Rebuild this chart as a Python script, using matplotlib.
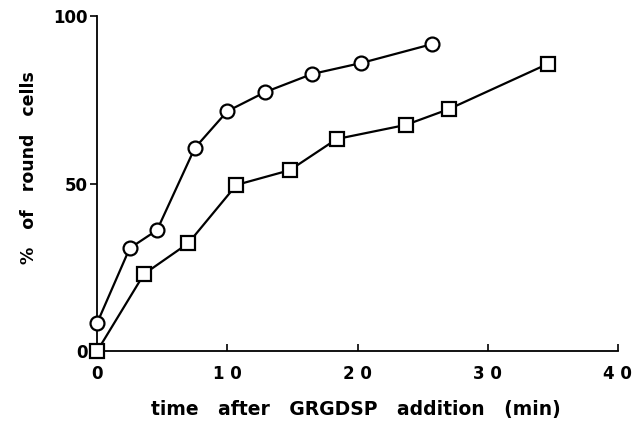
import matplotlib.pyplot as plt

# % of round cells after GRGDSP addition
circle_t = [0, 2.5, 4.6, 7.5, 10.0, 12.9, 16.5, 20.3, 25.7]
circle_pct = [8.4, 30.7, 36.1, 60.6, 71.6, 77.3, 82.7, 86.0, 91.6]

square_t = [0, 3.6, 7.0, 10.7, 14.8, 18.4, 23.7, 27.0, 34.6]
square_pct = [0, 23.0, 32.2, 49.6, 54.0, 63.3, 67.5, 72.2, 85.7]

xticks = [0, 10, 20, 30, 40]
xticklabels = ['0', '1 0', '2 0', '3 0', '4 0']
yticks = [0, 50, 100]
yticklabels = ['0', '50', '100']

plt.rcParams['font.family'] = ['DejaVu Sans']
plt.rcParams['font.weight'] = 'bold'

fig = plt.figure(figsize=(6.35, 4.23), dpi=100)
ax = fig.add_axes([0.153, 0.170, 0.820, 0.792])

ax.plot(circle_t, circle_pct, color='black', lw=1.6, marker='o', ms=10,
        mfc='white', mec='black', mew=1.6, clip_on=False, zorder=3)
ax.plot(square_t, square_pct, color='black', lw=1.6, marker='s', ms=10,
        mfc='white', mec='black', mew=1.6, clip_on=False, zorder=3)

ax.set_xlim(0, 40)
ax.set_ylim(0, 100)
ax.spines['top'].set_visible(False)
ax.spines['right'].set_visible(False)
ax.spines['left'].set_linewidth(1.3)
ax.spines['bottom'].set_linewidth(1.3)

ax.set_xticks(xticks)
ax.set_xticklabels(xticklabels)
ax.set_yticks(yticks)
ax.set_yticklabels(yticklabels)
ax.tick_params(axis='x', direction='in', length=5, width=1.2, labelsize=12, pad=10)
ax.tick_params(axis='y', direction='out', length=5, width=1.2, labelsize=12, pad=2)

ax.set_xlabel('time   after   GRGDSP   addition   (min)', fontsize=13.5,
              fontweight='bold')
ax.xaxis.set_label_coords(0.497, -0.146)
ax.set_ylabel('%   of   round   cells', fontsize=12.5, fontweight='bold')
ax.yaxis.set_label_coords(-0.113, 0.548)

fig.savefig('out.png', dpi=100)
